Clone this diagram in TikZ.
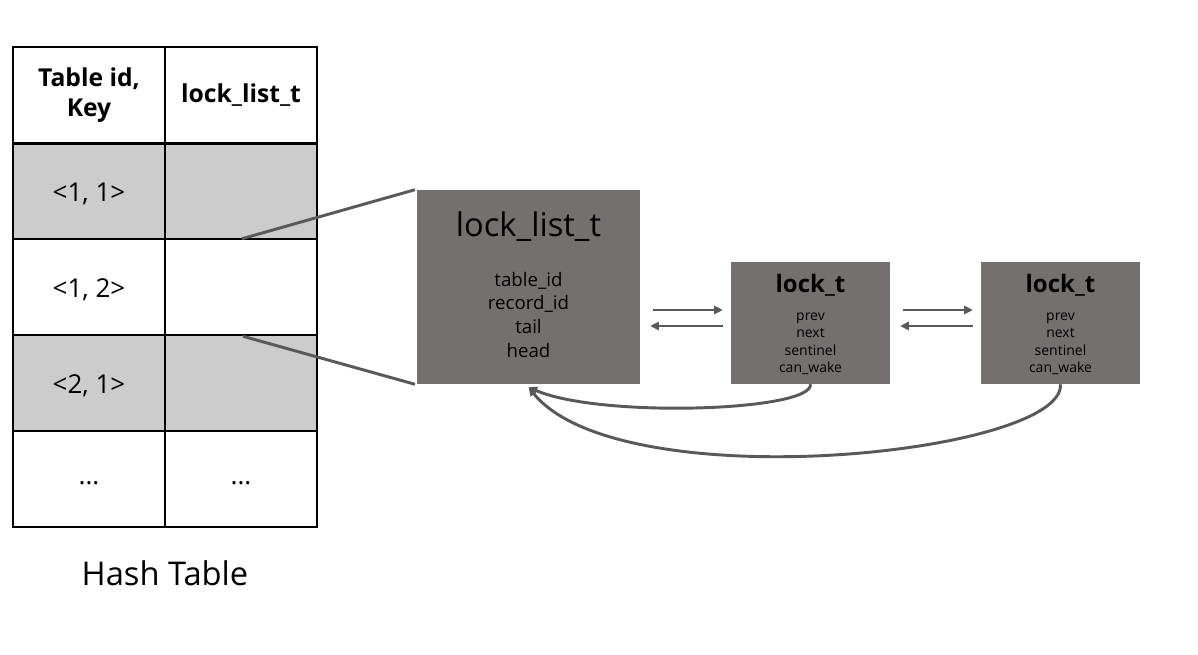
\documentclass[tikz,border=0pt]{standalone}
\usepackage{fontspec}
\setmainfont{Open Sans}
\usetikzlibrary{calc,arrows.meta}

\definecolor{boxgray}{RGB}{116,112,112}
\definecolor{linegray}{RGB}{89,89,89}
\tikzset{
  cellfont/.style={font=\fontsize{19.5}{23}\selectfont},
  cell/.style={draw=black, line width=1.1pt, minimum width=114pt, minimum height=72pt, inner sep=0pt, align=center, cellfont},
  headcell/.style={cell, font=\fontsize{18.5}{23}\selectfont\bfseries},
  shadecell/.style={cell, fill=gray!40},
  listbox/.style={fill=boxgray, minimum width=167pt, minimum height=145.5pt, inner sep=0pt},
  lockbox/.style={fill=boxgray, minimum width=119pt, minimum height=91.5pt, inner sep=0pt},
  link/.style={draw=linegray, line width=2.2pt},
  ptr/.style={link, ->}
}

\begin{document}
\begin{tikzpicture}[x=0.75pt, y=-0.75pt, >={Triangle[length=6.5pt,width=6pt]}]
\useasboundingbox[fill=white] (0,0) rectangle (1198,655);
\node[headcell] (h1) at (89,95) {Table id,\\Key};
\node[headcell] (h2) at (241,95) {lock\_list\_t};
\node[shadecell] (k1) at (89,191) {};
\node[shadecell] (v1) at (241,191) {};
\node[cell] (k2) at (89,287) {};
\node[cell] (v2) at (241,287) {};
\node[shadecell] (k3) at (89,383) {};
\node[shadecell] (v3) at (241,383) {};
\node[cell] (k4) at (89,479) {};
\node[cell] (v4) at (241,479) {};
\node[cellfont] (t1) at ($(k1.center)+(0,3)$) {<1, 1>};
\node[cellfont] (t2) at ($(k2.center)+(0,3)$) {<1, 2>};
\node[cellfont] (t3) at ($(k3.center)+(0,3)$) {<2, 1>};
\node[cellfont] (d1) at ($(k4.center)+(0,4)$) {...};
\node[cellfont] (d2) at ($(v4.center)+(0,4)$) {...};
\draw[line width=2pt] (h1.south west) -- (h2.south east);
\node[font=\fontsize{24.5}{28}\selectfont] (cap) at (165,573) {Hash Table};

\node[listbox] (ll) at (528.5,287) {};
\node[font=\fontsize{24.5}{28}\selectfont] (llt) at ($(ll.north)+(0,37)$) {lock\_list\_t};
\node[align=center, font=\fontsize{14}{17.7}\selectfont] (llf) at ($(ll.north)+(0,125)$) {table\_id\\record\_id\\tail\\head};

\node[lockbox] (l1) at (810.5,323) {};
\node[font=\fontsize{18}{20}\selectfont\bfseries] (l1t) at ($(l1.north)+(0,24)$) {lock\_t};
\node[align=center, font=\fontsize{10.5}{13}\selectfont] (l1f) at ($(l1.north)+(0,82)$) {prev\\next\\sentinel\\can\_wake};

\node[lockbox] (l2) at (1060.5,323) {};
\node[font=\fontsize{18}{20}\selectfont\bfseries] (l2t) at ($(l2.north)+(0,24)$) {lock\_t};
\node[align=center, font=\fontsize{10.5}{13}\selectfont] (l2f) at ($(l2.north)+(0,82)$) {prev\\next\\sentinel\\can\_wake};

\draw[link] ($(v1.south)+(1,-1)$) -- ($(ll.north west)+(-2,0)$);
\draw[link] ($(v3.north)+(2,2)$) -- ($(ll.south west)+(-2,0)$);

\draw[ptr] ($(ll.east|-l1.west)+(13,-13)$) -- ($(l1.west)+(-8,-13)$);
\draw[ptr] ($(l1.west)+(-8,3)$) -- ($(ll.east|-l1.west)+(10,3)$);
\draw[ptr] ($(l1.east|-l2.west)+(13,-13)$) -- ($(l2.west)+(-8,-13)$);
\draw[ptr] ($(l2.west)+(-8,3)$) -- ($(l1.east|-l2.west)+(10,3)$);

\draw[ptr] (l1.south) .. controls ($(l1.south)+(2,27)$) and ($(ll.south)+(72,34)$) .. ($(ll.south)+(0,3)$);
\draw[ptr] (l2.south) .. controls ($(l2.south)+(4,70)$) and ($(ll.south)+(92,116)$) .. ($(ll.south)+(0,3)$);
\end{tikzpicture}
\end{document}
